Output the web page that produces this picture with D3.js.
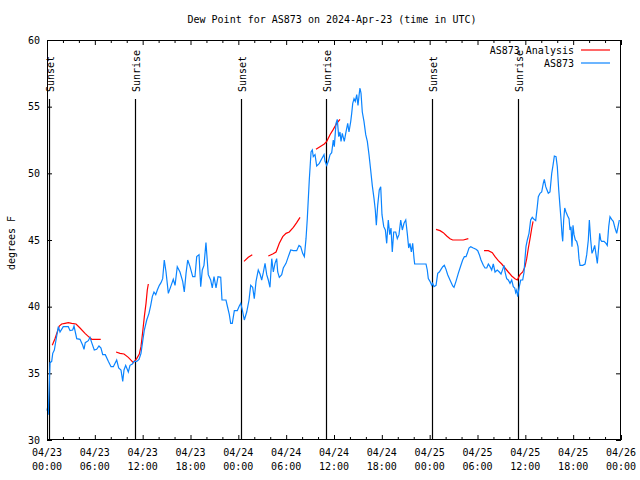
<!DOCTYPE html>
<html><head><meta charset="utf-8">
<script src="https://cdn.jsdelivr.net/npm/d3@7"></script>
<style>
html,body{margin:0;padding:0;background:#fff;}
svg text{font-family:"DejaVu Sans Mono","Liberation Mono",monospace;font-size:10px;fill:#000;}
</style></head>
<body><svg id="c" width="640" height="480"></svg>
<script>
// ---- data (hours since 2024-04-23 00:00 UTC) ----
const titleText = "Dew Point for AS873 on 2024-Apr-23 (time in UTC)";
const yLabel = "degrees F";
const seriesNames = ["AS873 Analysis", "AS873"];
const yTicks = [30, 35, 40, 45, 50, 55, 60];
const xTickHours = [0, 6, 12, 18, 24, 30, 36, 42, 48, 54, 60, 66, 72];
const xTickDates = ["04/23","04/23","04/23","04/23","04/24","04/24","04/24","04/24","04/25","04/25","04/25","04/25","04/26"];
const xTickTimes = ["00:00","06:00","12:00","18:00","00:00","06:00","12:00","18:00","00:00","06:00","12:00","18:00","00:00"];
const sunHours = [0.25, 11.08, 24.37, 35.04, 48.33, 59.12];
const sunLabels = ["Sunset", "Sunrise", "Sunset", "Sunrise", "Sunset", "Sunrise"];

const obsHours = [0.0,0.09,0.16,0.29,0.38,0.59,0.72,0.92,1.13,1.42,1.63,2.04,2.67,2.89,3.22,3.39,3.73,4.14,4.48,4.64,4.80,5.18,5.39,5.64,5.93,6.23,6.52,6.77,6.99,7.31,7.69,8.03,8.32,8.74,8.99,9.28,9.50,9.66,9.87,10.20,10.41,10.70,10.91,11.25,11.54,11.79,12.00,12.21,12.51,12.79,13.01,13.21,13.42,13.64,13.84,14.09,14.30,14.51,14.71,14.93,15.22,15.52,15.84,16.06,16.34,16.68,17.02,17.22,17.44,17.65,17.94,18.28,18.56,18.78,19.07,19.28,19.48,19.69,19.94,20.23,20.53,20.73,20.95,21.20,21.45,21.79,21.95,22.45,22.62,22.87,23.04,23.24,23.50,23.87,24.12,24.30,24.50,24.75,25.05,25.34,25.55,25.80,26.00,26.22,26.50,26.72,26.93,27.13,27.35,27.56,27.76,27.97,28.19,28.39,28.60,28.81,28.94,29.14,29.44,29.64,29.98,30.27,30.57,30.90,31.32,31.61,31.82,32.07,32.28,32.49,32.65,32.90,33.12,33.28,33.40,33.62,33.83,34.16,34.46,34.75,34.87,35.09,35.29,35.50,35.71,35.91,36.04,36.25,36.41,36.59,36.75,36.88,37.04,37.29,37.47,37.72,37.88,38.10,38.22,38.35,38.51,38.67,38.85,39.01,39.17,39.26,39.39,39.55,39.76,39.98,40.18,40.39,40.60,40.80,41.02,41.18,41.31,41.48,41.68,41.86,42.02,42.24,42.44,42.61,42.81,42.99,43.15,43.31,43.49,43.74,43.94,44.15,44.37,44.57,44.78,45.00,45.19,45.37,45.53,45.70,45.87,46.04,46.12,47.54,47.70,47.83,48.04,48.26,48.38,48.54,48.80,49.01,49.21,49.42,49.64,49.84,50.05,50.26,50.55,50.89,51.05,51.30,51.59,51.89,52.14,52.35,52.56,52.72,52.93,53.15,53.47,53.81,54.03,54.23,54.44,54.73,54.94,55.16,55.36,55.57,55.78,55.98,56.20,56.48,56.74,56.95,57.16,57.33,57.45,57.66,57.86,58.08,58.29,58.49,58.67,58.79,58.92,59.04,59.24,59.42,59.67,59.83,59.96,60.08,60.25,60.46,60.67,60.87,61.09,61.30,61.50,61.63,61.84,62.05,62.25,62.38,62.56,62.72,62.88,63.09,63.31,63.47,63.64,63.85,64.01,64.19,64.35,64.48,64.60,64.69,64.81,64.94,65.10,65.31,65.48,65.60,65.73,65.85,65.98,66.11,66.27,66.44,66.61,66.73,66.86,67.20,67.49,67.70,67.90,68.03,68.20,68.36,68.53,68.70,68.87,69.03,69.21,69.33,69.46,69.58,69.87,70.12,70.28,70.46,70.62,70.83,71.03,71.25,71.46,71.66,71.79];
const obsValues = [32.2,32.5,31.9,34.3,35.8,35.9,36.5,36.75,37.5,38.5,38.1,38.5,38.5,38.2,38.25,38.55,37.6,37.55,37.1,36.8,37.3,37.45,37.7,37.25,36.75,36.8,37.05,36.9,36.4,36.4,35.9,35.5,35.5,36.0,35.4,35.25,34.4,35.25,35.6,35.1,35.6,35.7,35.9,35.9,36.05,36.5,37.4,38.25,39.0,39.5,40.1,40.75,41.1,40.9,41.25,41.6,41.8,42.1,43.5,42.6,41.0,41.5,42.05,41.6,43.0,42.6,41.9,41.1,42.5,43.5,43.0,42.25,42.25,43.75,43.9,41.5,42.75,43.1,44.8,42.4,42.0,41.4,42.25,41.4,42.25,42.2,40.5,40.5,40.05,39.4,38.75,38.75,39.7,39.7,40.05,40.25,39.75,39.0,39.6,40.5,41.6,41.45,40.6,41.9,42.75,42.45,42.0,42.55,43.25,42.4,42.0,41.45,43.6,42.6,43.25,43.6,42.6,42.2,42.4,42.9,43.25,43.75,44.25,44.2,44.2,44.6,44.5,44.0,43.75,45.1,46.6,49.5,51.6,51.75,51.25,51.4,50.55,50.75,51.1,51.4,50.9,50.6,50.9,51.4,51.55,52.5,52.0,53.75,54.05,52.75,53.1,52.4,53.0,52.4,53.0,53.75,53.1,53.9,54.5,55.25,55.6,55.4,55.9,55.1,56.0,56.4,56.0,54.6,53.9,52.9,52.4,51.4,50.25,49.1,48.1,47.25,46.1,47.6,48.75,49.0,46.9,46.0,45.75,44.75,46.5,45.4,45.9,44.1,45.6,45.6,45.1,45.4,46.5,45.75,46.25,46.5,45.5,44.4,44.75,44.1,44.75,43.6,43.2,43.2,42.75,42.1,41.9,41.6,41.75,41.5,41.6,42.5,42.6,42.8,43.0,43.1,42.8,42.4,42.0,41.55,41.45,41.9,42.5,43.05,43.5,43.75,43.75,44.0,44.4,44.5,44.4,44.3,44.2,43.9,43.5,43.1,42.9,42.9,43.2,43.0,42.75,43.2,42.6,42.75,42.6,42.45,42.8,43.1,42.6,42.1,42.0,41.75,42.0,41.5,41.4,41.05,41.25,40.75,41.5,42.0,42.0,42.55,43.6,44.5,45.0,45.5,46.5,46.7,46.55,46.45,47.5,48.25,48.5,48.6,49.25,49.55,49.0,48.75,48.5,48.6,50.0,50.6,51.3,51.25,50.5,48.75,47.5,46.5,45.4,44.9,46.5,47.4,47.1,46.8,46.6,45.75,46.0,44.5,46.1,45.4,45.0,44.9,44.5,43.6,43.1,43.1,43.2,43.9,45.0,46.5,45.0,44.0,44.25,44.6,43.9,43.25,44.5,45.5,45.0,44.9,44.9,44.75,44.6,46.0,46.75,46.55,46.4,45.9,45.5,46.1,46.5];

// analysis segments separated by null
const anaHours = [0.66,1.00,1.29,1.54,1.84,2.26,2.67,3.10,3.64,4.14,4.77,5.31,5.61,6.74,null,
  8.66,9.16,9.66,10.20,10.83,11.25,11.58,11.79,12.00,12.21,12.42,12.58,12.71,null,
  24.71,25.25,25.75,null,
  27.76,28.31,28.73,29.14,29.57,29.98,30.39,30.90,31.32,31.74,null,
  33.74,34.24,34.78,35.09,35.50,35.91,36.34,36.75,null,
  48.80,49.30,49.71,50.14,50.55,50.89,52.22,52.85,null,
  54.82,55.36,55.86,56.20,56.61,57.04,57.45,57.86,58.29,58.70,58.99,59.33,59.67,59.96,60.17,60.38,60.59,60.81,60.97];
const anaValues = [37.1,37.6,38.1,38.55,38.7,38.75,38.8,38.75,38.7,38.4,38.0,37.7,37.55,37.55,null,
  36.6,36.5,36.45,36.2,35.8,36.1,36.45,37.0,38.1,39.25,40.25,41.25,41.7,null,
  43.4,43.7,43.9,null,
  43.8,43.95,44.1,44.75,45.25,45.5,45.6,45.95,46.3,46.7,null,
  51.8,52.0,52.2,52.4,52.9,53.3,53.75,54.05,null,
  45.8,45.7,45.55,45.3,45.1,45.0,45.0,45.1,null,
  44.2,44.2,44.05,43.75,43.45,43.2,42.9,42.6,42.3,42.1,42.0,42.4,42.6,43.0,43.6,44.4,45.1,45.9,46.4];

// ---- drawing ----
const L = 47, R = 621, T = 40, B = 440;
const blue = "#0a84ff", red = "#ff0000";
const svg = d3.select("#c");
const x = d3.scaleLinear().domain([0, 72]).range([L, R]);
const y = d3.scaleLinear().domain([30, 60]).range([B, T]);

svg.append("text").attr("x", 332).attr("y", 23).attr("text-anchor", "middle").text(titleText);
svg.append("text").attr("transform", `translate(15,243) rotate(-90)`).attr("text-anchor", "middle").text(yLabel);

// axes (inward ticks, mirrored)
const minorHours = d3.range(0, 73, 2).filter(h => h % 6 !== 0);
function styleAxis(g) { g.select(".domain").remove(); g.selectAll("line").attr("stroke", "#000"); g.selectAll("text").attr("font-size", null).attr("font-family", null); }
svg.append("g").attr("transform", `translate(0,${B})`).call(d3.axisBottom(x).tickValues(xTickHours).tickSize(-5).tickFormat("")).call(styleAxis);
svg.append("g").attr("transform", `translate(0,${B})`).call(d3.axisBottom(x).tickValues(minorHours).tickSize(-3).tickFormat("")).call(styleAxis);
svg.append("g").attr("transform", `translate(0,${T})`).call(d3.axisTop(x).tickValues(xTickHours).tickSize(-5).tickFormat("")).call(styleAxis);
svg.append("g").attr("transform", `translate(0,${T})`).call(d3.axisTop(x).tickValues(minorHours).tickSize(-3).tickFormat("")).call(styleAxis);
svg.append("g").attr("transform", `translate(${L},0)`).call(d3.axisLeft(y).tickValues(yTicks).tickSize(-5).tickPadding(7).tickFormat(d3.format("d"))).call(styleAxis);
svg.append("g").attr("transform", `translate(${R},0)`).call(d3.axisRight(y).tickValues(yTicks).tickSize(-5).tickFormat("")).call(styleAxis);

const xl = svg.append("g");
xTickHours.forEach((h, i) => {
  xl.append("text").attr("x", x(h)).attr("y", 456).attr("text-anchor", "middle").text(xTickDates[i]);
  xl.append("text").attr("x", x(h)).attr("y", 470).attr("text-anchor", "middle").text(xTickTimes[i]);
});

// sunrise / sunset
sunHours.forEach((h, i) => {
  svg.append("line").attr("x1", Math.round(x(h)) + 0.5).attr("x2", Math.round(x(h)) + 0.5)
    .attr("y1", 99).attr("y2", B).attr("stroke", "#000").attr("stroke-width", 1.2);
  svg.append("text").attr("transform", `translate(${x(h) + 5},92) rotate(-90)`).text(sunLabels[i]);
});

// series
const anaData = anaHours.map((h, i) => ({h, v: anaValues[i]}));
const obsData = obsHours.map((h, i) => ({h, v: obsValues[i]}));
const line = d3.line().defined(d => d.h !== null && d.v !== null).x(d => x(d.h)).y(d => y(d.v));
svg.append("path").datum(anaData).attr("d", line).attr("fill", "none").attr("stroke", red).attr("stroke-width", 1.2);
svg.append("path").datum(obsData).attr("d", line).attr("fill", "none").attr("stroke", blue).attr("stroke-width", 1.2);

// frame
svg.append("rect").attr("x", L + 0.5).attr("y", T + 0.5).attr("width", R - L - 1).attr("height", B - T - 1)
  .attr("fill", "none").attr("stroke", "#000").attr("stroke-width", 1);

// legend
const legColors = [red, blue];
seriesNames.forEach((n, i) => {
  const ly = 50 + i * 13;
  svg.append("text").attr("x", 574).attr("y", ly + 4).attr("text-anchor", "end").text(n);
  svg.append("line").attr("x1", 581).attr("x2", 610).attr("y1", ly).attr("y2", ly).attr("stroke", legColors[i]).attr("stroke-width", 1.2);
});
</script></body></html>
